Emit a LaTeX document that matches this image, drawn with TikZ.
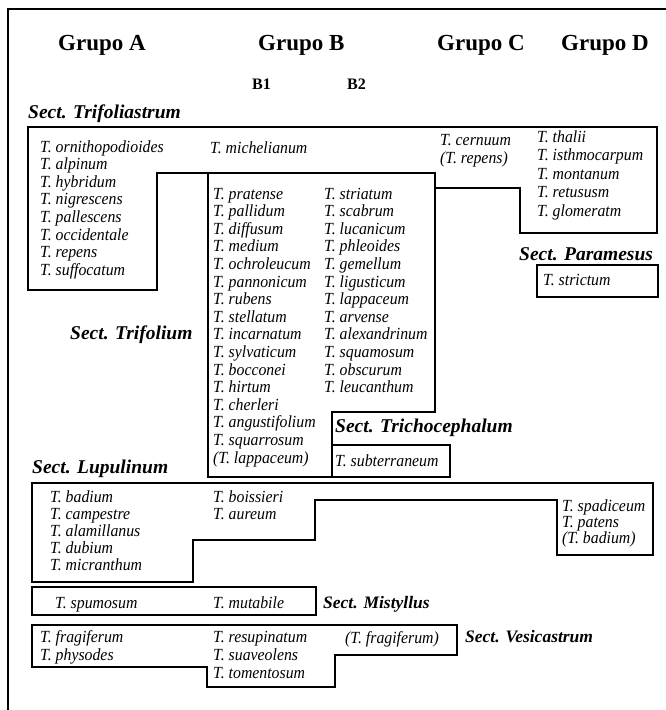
\documentclass[tikz,border=0pt]{standalone}
\usepackage{fontspec}
\setmainfont{Liberation Serif}
\newfontfamily\spfont[FakeStretch=0.93]{Liberation Serif}
\begin{document}
\begin{tikzpicture}[x=1pt,y=-1pt,
  box/.style={draw=black,line width=1.5pt,line join=miter},
  sp/.style={font=\spfont\fontsize{17}{17}\selectfont\itshape,anchor=base west,inner sep=0pt},
  sect/.style={font=\fontsize{19.5}{19.5}\selectfont\bfseries\itshape,anchor=base west,inner sep=0pt},
  sects/.style={font=\fontsize{17.5}{17.5}\selectfont\bfseries\itshape,anchor=base west,inner sep=0pt},
  grp/.style={font=\fontsize{23}{23}\selectfont\bfseries,anchor=base west,inner sep=0pt},
  subg/.style={font=\fontsize{16}{16}\selectfont\bfseries,anchor=base west,inner sep=0pt}]
\useasboundingbox (0,0) rectangle (666,710);
\fill[white] (0,0) rectangle (666,710);
% outer frame
\draw[line width=2.4pt] (8,710) -- (8,9) -- (666,9);
% headings
\node[grp] (gA) at (58,50) {Grupo A};
\node[grp] (gB) at (258,50) {Grupo B};
\node[grp] (gC) at (437,50) {Grupo C};
\node[grp] (gD) at (561,50) {Grupo D};
\node[subg] (b1) at (252,89) {B1};
\node[subg] (b2) at (347,89) {B2};
% section outlines
\draw[box] (28,127) -- (657,127) -- (657,233) -- (520,233) -- (520,188) -- (435,188) -- (435,173) -- (157,173) -- (157,290) -- (28,290) -- cycle;
\draw[box] (208,173) -- (435,173) -- (435,412) -- (332,412) -- (332,477) -- (208,477) -- cycle;
\draw[box] (332,445) rectangle (450,477);
\draw[box] (537,265) rectangle (658,297);
\draw[box] (32,483) -- (653,483) -- (653,555) -- (557,555) -- (557,500) -- (315,500) -- (315,540) -- (193,540) -- (193,582) -- (32,582) -- cycle;
\draw[box] (32,587) rectangle (316,615);
\draw[box] (32,625) -- (457,625) -- (457,655) -- (335,655) -- (335,687) -- (207,687) -- (207,667) -- (32,667) -- cycle;
% section labels
\node[sect] (sTfa) at (28,118) {Sect. Trifoliastrum};
\node[sect] (sTfo) at (70,339) {Sect. Trifolium};
\node[sect] (sTri) at (335,432) {Sect. Trichocephalum};
\node[sect] (sPar) at (519,260) {Sect. Paramesus};
\node[sect] (sLup) at (32,473) {Sect. Lupulinum};
\node[sects] (sMis) at (323,608) {Sect. Mistyllus};
\node[sects] (sVes) at (465,642) {Sect. Vesicastrum};
% Trifoliastrum, group A
\foreach \t [count=\i] in {T. ornithopodioides, T. alpinum, T. hybridum, T. nigrescens, T. pallescens, T. occidentale, T. repens, T. suffocatum}
  \node[sp] (fa\i) at (40,{152+17.6*(\i-1)}) {\t};
\node[sp] (mich) at (210,153) {T. michelianum};
\node[sp] (cer1) at (440,145) {T. cernuum};
\node[sp] (cer2) at (440,163) {(T. repens)};
\foreach \t [count=\i] in {T. thalii, T. isthmocarpum, T. montanum, T. retususm, T. glomeratm}
  \node[sp] (fd\i) at (537,{142+18.5*(\i-1)}) {\t};
% Trifolium B1 and B2
\foreach \t [count=\i] in {T. pratense, T. pallidum, T. diffusum, T. medium, T. ochroleucum, T. pannonicum, T. rubens, T. stellatum, T. incarnatum, T. sylvaticum, T. bocconei, T. hirtum, T. cherleri, T. angustifolium, T. squarrosum, (T. lappaceum)}
  \node[sp] (bo\i) at (213,{199+17.6*(\i-1)}) {\t};
\foreach \t [count=\i] in {T. striatum, T. scabrum, T. lucanicum, T. phleoides, T. gemellum, T. ligusticum, T. lappaceum, T. arvense, T. alexandrinum, T. squamosum, T. obscurum, T. leucanthum}
  \node[sp] (bt\i) at (324,{199+17.6*(\i-1)}) {\t};
\node[sp] (subt) at (335,466) {T. subterraneum};
\node[sp] (stri) at (543,285) {T. strictum};
% Lupulinum
\foreach \t [count=\i] in {T. badium, T. campestre, T. alamillanus, T. dubium, T. micranthum}
  \node[sp] (lu\i) at (50,{502+17*(\i-1)}) {\t};
\node[sp] (bois) at (213,502) {T. boissieri};
\node[sp] (aure) at (213,519) {T. aureum};
\node[sp] (spad) at (562,511) {T. spadiceum};
\node[sp] (pate) at (562,527) {T. patens};
\node[sp] (badi) at (562,543) {(T. badium)};
% Mistyllus
\node[sp] (spum) at (55,608) {T. spumosum};
\node[sp] (muta) at (213,608) {T. mutabile};
% Vesicastrum
\node[sp] (frag) at (40,642) {T. fragiferum};
\node[sp] (phys) at (40,660) {T. physodes};
\node[sp] (resu) at (213,642) {T. resupinatum};
\node[sp] (suav) at (213,660) {T. suaveolens};
\node[sp] (tome) at (213,678) {T. tomentosum};
\node[sp] (frg2) at (345,643) {(T. fragiferum)};
\end{tikzpicture}
\end{document}
